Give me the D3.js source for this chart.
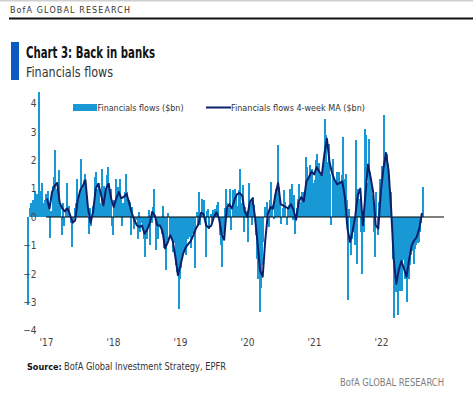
<!DOCTYPE html>
<html>
<head>
<meta charset="utf-8">
<script src="https://cdn.jsdelivr.net/npm/d3@7"></script>
<style>
  html, body { margin: 0; padding: 0; background: #fff; }
  svg { display: block; }
  .narrow { font-family: "Liberation Sans Narrow", "DejaVu Sans Condensed", "Arial Narrow", sans-serif; }
</style>
</head>
<body>
<svg id="chart" width="473" height="399"></svg>
<script>
// ---------------- DATA ----------------
const startDate = "2016-09-23";          // first weekly observation
const flowsLabel = "Financials flows ($bn)";
const maLabel = "Financials flows 4-week MA ($bn)";
// Weekly financials flows ($bn), one value per week
const flows = [
  -3.1, 0.3, 0.5, 0.4, 0.6, 0.9, 0.5, 0.8, 4.4, 0.7,
  0.9, 1.2, 0.5, 0.6, 0.8, 0.9, 0.3, -0.75, 0.2, 1.1,
  1.4, 2.35, 1.0, 0.5, 1.65, 0.4, -0.65, 0.5, -0.3, 0.3,
  1.2, 0.2, 0.4, -0.2, -1.05, -0.2, 0.3, 0.5, 1.35, 0.6,
  0.9, 2.05, 1.0, 1.3, 1.5, 0.9, 0.4, -0.6, 0.3, -0.3,
  0.4, 0.5, 1.4, 1.6, 1.0, 1.2, 0.5, 1.7, 0.9, 1.1,
  0.8, 1.47, 1.76, 1.2, 1.0, -0.3, -0.65, 0.6, 1.35, 0.88,
  1.05, 1.35, 0.6, -0.3, 0.5, 0.88, 1.53, 0.88, 0.6, 0.53,
  -0.65, 0.35, -0.41, -0.23, -0.12, -0.76, 0.18, -0.53, -0.2, -0.29,
  -0.76, -1.4, -0.76, -0.3, 0.23, -1.0, -0.2, 0.35, 1.0, -1.15,
  -0.5, -0.76, -0.3, -0.35, -0.6, 0.4, -1.1, -1.85, -0.8, 0.14,
  -0.64, -0.5, -0.76, -1.23, -0.9, -1.7, -1.94, -3.25, -2.2, -1.8,
  -1.45, -1.23, -0.88, -1.35, -0.76, -0.7, -0.65, -1.1, -0.59, -0.5,
  -1.8, 0.18, -0.3, 0.88, -0.29, 0.65, 0.1, 0.59, -1.4, 0.2,
  0.29, -0.41, 0.12, -0.18, 0.23, 0.29, 0.14, 0.41, 0.54, -0.64,
  -1.0, -1.75, -0.6, 0.3, 1.0, 0.5, 0.3, 1.0, -0.47, 0.94,
  0.6, 1.0, 0.82, 0.4, 0.94, 1.7, 0.5, 1.11, -0.53, 0.35,
  0.2, -0.88, 1.2, 0.53, -0.29, 0.7, 0.41, -0.64, -1.47, -2.17,
  -3.35, -2.5, -1.7, -0.88, 0.35, 0.2, 0.53, -0.35, 0.6, 1.23,
  0.41, -0.06, 0.76, 1.0, 2.52, 1.05, 0.6, -0.23, 0.3, 0.94,
  0.53, -0.29, 0.3, 0.41, 1.0, 1.17, -0.12, 0.76, -0.59, 0.3,
  0.65, 1.17, 0.53, 0.88, 0.6, 0.88, 2.1, 1.76, 1.4, 1.82,
  1.53, 1.7, 1.2, 1.29, 2.0, 2.23, 1.9, 1.53, 1.23, 1.47,
  1.9, 3.46, 2.87, 1.94, 2.58, 1.5, -0.29, 2.05, 1.35, 1.2,
  1.58, 1.11, 1.58, 1.2, 1.47, 2.82, 1.35, 1.53, 0.6, -2.93,
  0.29, -1.35, -0.76, -0.53, -1.0, 2.7, -1.64, 1.0, 0.65, -0.53,
  -2.0, -0.53, 3.1, 2.88, 1.2, 2.76, 1.58, 1.11, 0.76, -0.53,
  -1.41, 0.88, -0.65, 0.53, 1.35, 1.8, 1.0, 3.6, 2.29, 2.23,
  1.88, 1.47, 0.88, -0.29, -1.47, -3.55, -2.64, -2.0, -3.45, -2.6,
  -2.0, -2.6, -1.5, -2.17, -2.0, -3.0, -2.17, -1.7, -1.35, -1.2,
  -1.64, -1.11, -1.0, -0.9, -0.88, -0.53, -0.2, 1.05
];
// 4-week moving average ($bn), read every second week starting at week 15
const maStartWeek = 15;
const maStepWeeks = 2;
const maValues = [
  0.65, 0.3, 0.88, 1.1, 1.2, 0.5, 0.3, 0.2, 0.3, 0.08,
  -0.2, -0.12, 0.6, 0.94, 1.1, 1.3, 0.3, -0.2, 0.2, 1.0,
  1.17, 0.82, 0.41, 1.0, 1.17, 0.65, 0.35, 0.65, 0.88, 0.65,
  0.72, 0.82, 0.5, 0.15, -0.1, -0.29, -0.35, -0.3, -0.59, -0.45,
  -0.23, 0.18, 0.05, -0.29, -0.3, -0.5, -1.1, -0.9, -0.64, -0.85,
  -1.4, -2.05, -1.7, -1.3, -1.08, -0.95, -0.85, -0.64, -0.41, -0.25,
  0.15, 0.1, -0.29, -0.38, -0.3, 0.0, 0.16, -0.05, -0.6, -0.8,
  0.3, 0.45, 0.3, 0.6, 0.8, 0.85, 0.75, 0.2, 0.0, 0.53,
  0.65, 0.0, -0.9, -1.9, -2.1, -0.82, 0.1, 0.35, 0.29, 0.82,
  1.2, 0.45, 0.4, 0.35, 0.3, 0.45, 0.25, -0.1, 0.53, 0.7,
  0.55, 1.25, 1.4, 1.6, 1.5, 1.75, 1.6, 1.47, 2.2, 2.76,
  1.95, 1.55, 1.3, 1.15, 1.2, 1.25, 0.7, -0.4, -0.88, -0.5,
  0.0, 0.76, 1.0, -0.29, 0.8, 1.85, 1.4, 0.88, -0.29, -0.41,
  0.88, 1.7, 2.25, 1.64, 0.3, -1.47, -2.35, -1.85, -1.55, -1.82,
  -2.1, -1.5, -1.0, -0.82, -0.7, -0.4, 0.14
];
const yTicks = [-4, -3, -2, -1, 0, 1, 2, 3, 4];
const xTickYears = ["2017", "2018", "2019", "2020", "2021", "2022"];
const xTickLabels = ["'17", "'18", "'19", "'20", "'21", "'22"];
const xDomain = ["2017-01-01", "2023-01-01"];
const zeroLineEnd = "2022-12-10";

// ---------------- COLOURS ----------------
const barColor = "#1898d5";
const lineColor = "#0c1f6b";

// ---------------- DRAW ----------------
const svg = d3.select("#chart");
const parse = d3.utcParse("%Y-%m-%d");
const t0 = parse(startDate);
const weekDate = i => d3.utcDay.offset(t0, 7 * i);

const flowData = flows.map((v, i) => ({ date: weekDate(i), value: v }));
const maData = maValues.map((v, k) => ({ date: weekDate(maStartWeek + maStepWeeks * k), value: v }));

const x = d3.scaleUtc().domain(xDomain.map(parse)).range([46, 448]);
const y = d3.scaleLinear().domain([-4, 4]).range([330.6, 103.4]);

// Header
svg.append("rect").attr("x", 0).attr("y", 0).attr("width", 473).attr("height", 1.5).attr("fill", "#cfcfcf");
svg.append("text").attr("x", 10).attr("y", 12.5)
  .attr("font-family", "'DejaVu Sans', sans-serif").attr("font-size", 8).attr("font-weight", 500)
  .attr("fill", "#333").attr("textLength", 120).attr("lengthAdjust", "spacing")
  .text("BofA GLOBAL RESEARCH");
svg.append("rect").attr("x", 9).attr("y", 17.5).attr("width", 464).attr("height", 2).attr("fill", "#111");

// Title block
svg.append("rect").attr("x", 11).attr("y", 42).attr("width", 8).attr("height", 38).attr("fill", "#0a5ac2");
svg.append("text").attr("class", "narrow").attr("x", 26).attr("y", 58)
  .attr("font-size", 15).attr("font-weight", "bold").attr("fill", "#111")
  .attr("textLength", 129).attr("lengthAdjust", "spacingAndGlyphs")
  .text("Chart 3: Back in banks");
svg.append("text").attr("class", "narrow").attr("x", 26).attr("y", 77)
  .attr("font-size", 14).attr("fill", "#333")
  .attr("textLength", 87).attr("lengthAdjust", "spacingAndGlyphs")
  .text("Financials flows");

// Bars
const g = svg.append("g").attr("shape-rendering", "crispEdges");
const bw = 2;
g.selectAll("rect.bar").data(flowData).join("rect")
  .attr("class", "bar")
  .attr("x", d => x(d.date) - 0.3)
  .attr("width", bw)
  .attr("y", d => Math.min(y(0), y(d.value)))
  .attr("height", d => Math.abs(y(d.value) - y(0)))
  .attr("fill", barColor);

// Zero line
svg.append("line")
  .attr("x1", x(parse(xTickYears[0] + "-01-01"))).attr("x2", x(parse(zeroLineEnd)))
  .attr("y1", y(0)).attr("y2", y(0))
  .attr("stroke", "#000").attr("stroke-width", 1.1);

// MA line
const line = d3.line().x(d => x(d.date)).y(d => y(d.value));
svg.append("path").datum(maData)
  .attr("d", line).attr("fill", "none")
  .attr("stroke", lineColor).attr("stroke-width", 2).attr("stroke-linejoin", "round");

// Y axis
const yAxis = d3.axisLeft(y).tickValues(yTicks).tickSize(0).tickPadding(0).tickFormat(d3.format("d"));
const ya = svg.append("g").attr("transform", "translate(36.5,0)").call(yAxis);
ya.select(".domain").remove();
ya.selectAll("text").attr("class", "narrow").attr("font-size", 10).attr("fill", "#444");

// X axis
const xAxis = d3.axisBottom(x).tickValues(xTickYears.map(yy => parse(yy + "-01-01")))
  .tickSize(0).tickPadding(0).tickFormat((d, i) => xTickLabels[i]);
const xa = svg.append("g").attr("transform", "translate(0,339)").call(xAxis);
xa.select(".domain").remove();
xa.selectAll("text").attr("class", "narrow").attr("font-size", 10).attr("fill", "#444");

// Legend
const leg = svg.append("g").attr("class", "narrow").attr("font-size", 9.5).attr("fill", "#333");
leg.append("rect").attr("x", 73).attr("y", 104).attr("width", 24).attr("height", 7).attr("fill", barColor);
leg.append("text").attr("x", 97.5).attr("y", 111)
  .attr("textLength", 86).attr("lengthAdjust", "spacingAndGlyphs").text(flowsLabel);
leg.append("line").attr("x1", 206).attr("x2", 231).attr("y1", 107.5).attr("y2", 107.5)
  .attr("stroke", lineColor).attr("stroke-width", 2);
leg.append("text").attr("x", 231).attr("y", 111)
  .attr("textLength", 134).attr("lengthAdjust", "spacingAndGlyphs").text(maLabel);

// Footer
svg.append("text").attr("class", "narrow").attr("x", 27).attr("y", 370)
  .attr("font-size", 9).attr("font-weight", "bold").attr("fill", "#111")
  .text("Source:");
svg.append("text").attr("class", "narrow").attr("x", 64).attr("y", 370)
  .attr("font-size", 10).attr("fill", "#333")
  .attr("textLength", 162).attr("lengthAdjust", "spacingAndGlyphs")
  .text("BofA Global Investment Strategy, EPFR");

svg.append("text").attr("class", "narrow").attr("x", 444).attr("y", 386)
  .attr("text-anchor", "end").attr("font-size", 10.5).attr("fill", "#808080")
  .attr("textLength", 104).attr("lengthAdjust", "spacingAndGlyphs")
  .text("BofA GLOBAL RESEARCH");
</script>
</body>
</html>
